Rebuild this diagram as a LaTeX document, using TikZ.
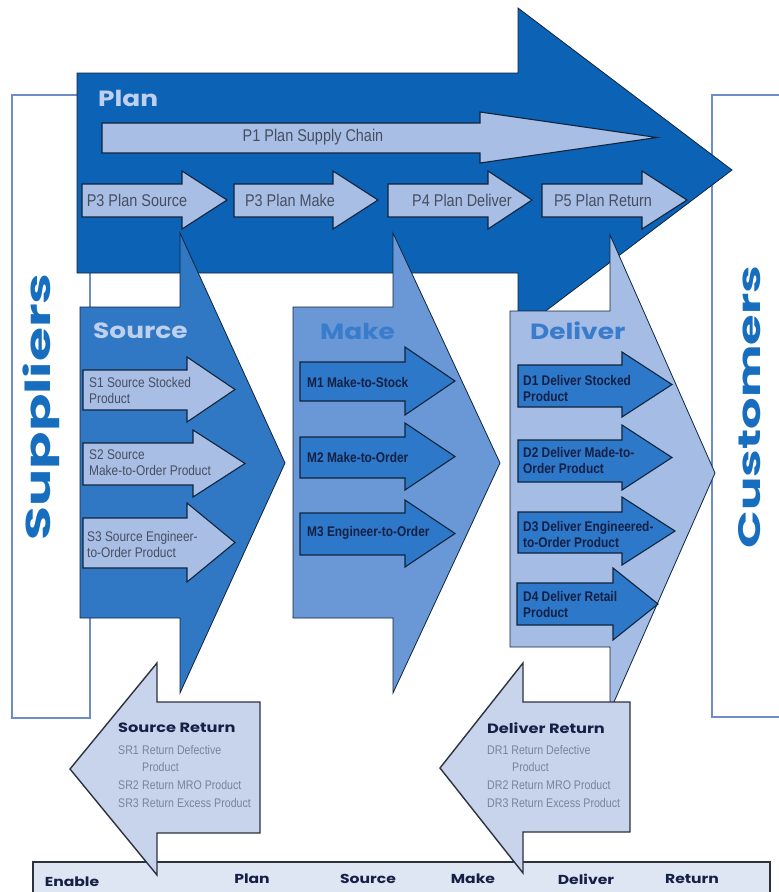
\documentclass[tikz,border=0pt]{standalone}
\usepackage{fontspec}
\setmainfont{Liberation Sans}
\newfontfamily\condfont[FakeStretch=0.85]{Liberation Sans}
\newfontfamily\headfont[FakeStretch=1.2]{Poppins}
\newfontfamily\sidefont[FakeStretch=1.6]{Poppins}
\usepackage{tikz}
\usetikzlibrary{positioning}

\definecolor{planblue}{RGB}{12,98,180}
\definecolor{sourceblue}{RGB}{48,120,196}
\definecolor{makeblue}{RGB}{106,152,214}
\definecolor{deliverblue}{RGB}{165,188,228}
\definecolor{subpale}{RGB}{168,190,228}
\definecolor{subdark}{RGB}{45,120,200}
\definecolor{returnpale}{RGB}{200,212,236}
\definecolor{edgenavy}{RGB}{16,36,60}
\definecolor{retline}{RGB}{44,50,62}
\definecolor{boxline}{RGB}{110,140,200}
\definecolor{headpale}{RGB}{190,208,238}
\definecolor{headmid}{RGB}{58,124,204}
\definecolor{titleblue}{RGB}{24,110,190}
\definecolor{textgray}{RGB}{70,78,98}
\definecolor{retgray}{RGB}{120,132,160}
\definecolor{navytext}{RGB}{20,32,70}
\definecolor{enablefill}{RGB}{222,229,243}

\tikzset{
  bigedge/.style={draw=edgenavy, line width=0.8pt, line join=miter},
  planbody/.style={bigedge, fill=planblue},
  sourcebody/.style={bigedge, fill=sourceblue},
  makebody/.style={bigedge, fill=makeblue},
  deliverbody/.style={bigedge, fill=deliverblue},
  palesub/.style={draw=edgenavy, line width=1.1pt, fill=subpale},
  darksub/.style={draw=edgenavy, line width=1.1pt, fill=subdark},
  returnbody/.style={draw=retline, line width=1.4pt, fill=returnpale},
  sidebox/.style={draw=boxline, line width=1.2pt, fill=white},
  enablebar/.style={draw=retline, line width=1.4pt, fill=enablefill},
  stagelabel/.style={inner sep=0pt, anchor=west, font=\headfont\bfseries\fontsize{22}{26}\selectfont},
  ptext/.style={inner sep=0pt, text=textgray, font=\condfont\fontsize{17}{19}\selectfont},
  stext/.style={inner sep=0pt, anchor=west, align=left, text=textgray, font=\condfont\fontsize{14}{16}\selectfont},
  mdtext/.style={inner sep=0pt, anchor=west, align=left, text=navytext, font=\condfont\bfseries\fontsize{14}{16}\selectfont},
  rettitle/.style={inner sep=0pt, anchor=west, text=navytext, font=\headfont\bfseries\fontsize{13.5}{16}\selectfont},
  retitem/.style={inner sep=0pt, anchor=north west, align=left, text=retgray, font=\condfont\fontsize{12.5}{17.6}\selectfont},
  enablelabel/.style={inner sep=0pt, text=navytext, font=\headfont\bfseries\fontsize{13}{15}\selectfont},
  sidelabel/.style={inner sep=0pt, rotate=90, text=titleblue, font=\sidefont\bfseries\fontsize{34.5}{38}\selectfont},
}

\begin{document}
\begin{tikzpicture}[x=1pt,y=-1pt]

% right block arrow: style, x left, x head base, x tip, body top, body bottom, head top, head bottom
\newcommand{\blockR}[8]{%
  \path[#1] (#2,#5) -- (#3,#5) -- (#3,#7) -- (#4,{0.5*(#7+#8)}) -- (#3,#8) -- (#3,#6) -- (#2,#6) -- cycle;}
% left block arrow: style, x tip, x head base, x right, body top, body bottom, head top, head bottom
\newcommand{\blockL}[8]{%
  \path[#1] (#4,#5) -- (#3,#5) -- (#3,#7) -- (#2,{0.5*(#7+#8)}) -- (#3,#8) -- (#3,#6) -- (#4,#6) -- cycle;}

	% Proper size --- Bounding box
	\useasboundingbox (0,0) rectangle (779,892);

	% Suppliers and Customers frames
	\path[sidebox] (12,95) rectangle (90,718);
	\path[fill=white] (712,95) rectangle (779,717);
	\draw[boxline, line width=1.2pt] (779,95) -- (712,95) -- (712,717) -- (779,717);

	\node[sidelabel] (Suppliers) at (41,407) {Suppliers};
	\node[sidelabel, font=\sidefont\bfseries\fontsize{31}{34}\selectfont] (Customers) at (750,407) {Customers};

	% Enable bar
	\path[enablebar] (33,862) rectangle (770,910);
	\node[enablelabel] (EnLbl) at (72,882) {Enable};
	\node[enablelabel] (EnPlan) at (252,879) {Plan};
	\node[enablelabel] (EnSource) at (368,879) {Source};
	\node[enablelabel] (EnMake) at (473,879) {Make};
	\node[enablelabel] (EnDeliver) at (586,879) {Deliver};
	\node[enablelabel] (EnReturn) at (692,879) {Return};

	% ------------------------------------------------
	% PLAN
	% ------------------------------------------------
	\blockR{planbody}{77}{518}{732}{73}{273}{8}{332}
	\node[stagelabel, text=headpale] (PlanLbl) at (98,98) {Plan};

	\blockR{palesub}{102}{480}{657}{123}{153}{112}{163}
	\node[ptext] (P1txt) at (313,137) {P1 Plan Supply Chain};

	\blockR{palesub}{82}{182}{227}{184}{217}{171}{229}
	\blockR{palesub}{234}{333}{378}{184}{217}{171}{229}
	\blockR{palesub}{388}{488}{532}{184}{217}{171}{229}
	\blockR{palesub}{542}{642}{687}{184}{217}{171}{229}
	\node[ptext] (P3src) at (137,200) {P3 Plan Source};
	\node[ptext] (P3mk) at (290,200) {P3 Plan Make};
	\node[ptext] (P4dl) at (462,200) {P4 Plan Deliver};
	\node[ptext] (P5rt) at (603,200) {P5 Plan Return};

	% ------------------------------------------------
	% SOURCE
	% ------------------------------------------------
	\blockR{sourcebody}{80}{180}{285}{307}{618}{233}{693}
	\node[stagelabel, text=headpale] (SourceLbl) at (93,331) {Source};

	\blockR{palesub}{83}{187}{235}{370}{410}{357}{422}
	\blockR{palesub}{83}{193}{245}{443}{485}{430}{497}
	\blockR{palesub}{83}{187}{235}{518}{568}{503}{582}
	\node[stext] (S1txt) at (89,390) {S1 Source Stocked\\Product};
	\node[stext] (S2txt) at (89,463) {S2 Source\\Make-to-Order Product};
	\node[stext] (S3txt) at (87,544) {S3 Source Engineer-\\to-Order Product};

	% ------------------------------------------------
	% MAKE
	% ------------------------------------------------
	\blockR{makebody}{293}{393}{500}{307}{618}{233}{693}
	\node[stagelabel, text=headmid] (MakeLbl) at (320,331) {Make};

	\blockR{darksub}{300}{405}{455}{362}{401}{347}{415}
	\blockR{darksub}{300}{405}{455}{437}{478}{423}{490}
	\blockR{darksub}{300}{405}{455}{513}{555}{500}{567}
	\node[mdtext] (M1txt) at (307,382) {M1 Make-to-Stock};
	\node[mdtext] (M2txt) at (307,457) {M2 Make-to-Order};
	\node[mdtext] (M3txt) at (307,533) {M3 Engineer-to-Order};

	% ------------------------------------------------
	% DELIVER
	% ------------------------------------------------
	\blockR{deliverbody}{510}{610}{715}{311}{647}{235}{711}
	\node[stagelabel, text=headmid] (DeliverLbl) at (530,331) {Deliver};

	\blockR{darksub}{518}{622}{672}{365}{407}{352}{417}
	\blockR{darksub}{518}{622}{672}{440}{482}{425}{490}
	\blockR{darksub}{518}{622}{675}{512}{553}{497}{565}
	\blockR{darksub}{517}{613}{658}{583}{625}{568}{640}
	\node[mdtext] (D1txt) at (523,388) {D1 Deliver Stocked\\Product};
	\node[mdtext] (D2txt) at (523,460) {D2 Deliver Made-to-\\Order Product};
	\node[mdtext] (D3txt) at (523,534) {D3 Deliver Engineered-\\to-Order Product};
	\node[mdtext] (D4txt) at (523,604) {D4 Deliver Retail\\Product};

	% ------------------------------------------------
	% RETURNS
	% ------------------------------------------------
	\blockL{returnbody}{70}{157}{260}{702}{833}{663}{875}
	\node[rettitle] (SRtitle) at (118,728) {Source Return};
	\node[retitem] (SRlist) at (118,745) {\makebox[24pt][l]{SR1}Return Defective\\
		\makebox[24pt][l]{}Product\\
		\makebox[24pt][l]{SR2}Return MRO Product\\
		\makebox[24pt][l]{SR3}Return Excess Product};

	\blockL{returnbody}{440}{523}{630}{702}{832}{663}{873}
	\node[rettitle] (DRtitle) at (487,728) {Deliver Return};
	\node[retitem] (DRlist) at (487,745) {DR1 Return Defective\\
		\hspace*{25pt}Product\\
		DR2 Return MRO Product\\
		DR3 Return Excess Product};

\end{tikzpicture}
\end{document}
